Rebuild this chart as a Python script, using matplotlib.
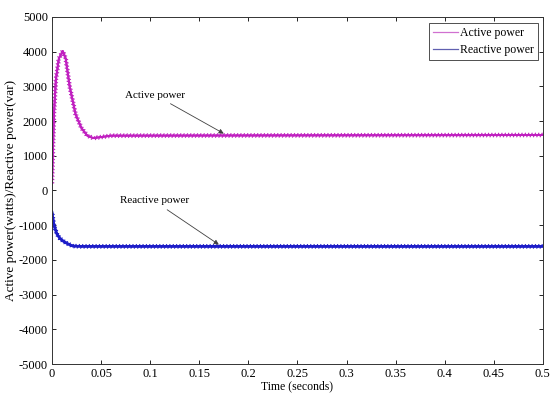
import numpy as np
import matplotlib
matplotlib.use("Agg")
import matplotlib.pyplot as plt
import matplotlib.patheffects as pe
from matplotlib.ticker import FixedLocator

# Values
T_ACTIVE = [0.0, 0.002, 0.004, 0.007, 0.011, 0.014, 0.018, 0.024, 0.030, 0.036, 0.042, 0.050, 0.060, 0.5]
P_ACTIVE = [200, 2200, 3200, 3800, 4020, 3800, 3000, 2200, 1800, 1580, 1510, 1540, 1580, 1600]

T_REACTIVE = [0.0, 0.002, 0.005, 0.008, 0.012, 0.015, 0.021, 0.030, 0.5]
Q_REACTIVE = [-620, -1000, -1250, -1380, -1470, -1520, -1600, -1610, -1610]

X_TICKS = [0, 0.05, 0.1, 0.15, 0.2, 0.25, 0.3, 0.35, 0.4, 0.45, 0.5]
X_LABELS = ["0", "0.05", "0.1", "0.15", "0.2", "0.25", "0.3", "0.35", "0.4", "0.45", "0.5"]
Y_TICKS = [-5000, -4000, -3000, -2000, -1000, 0, 1000, 2000, 3000, 4000, 5000]

plt.rcParams["font.family"] = ["Liberation Serif", "DejaVu Serif"]
plt.rcParams["font.size"] = 8
plt.rcParams["axes.unicode_minus"] = False

ACTIVE_COLOR = "#c020c0"
REACTIVE_COLOR = "#1c1cc8"


def ripple(color):
    # the dense switching ripple, drawn as small ticks on both sides of the trace
    return [
        pe.withTickedStroke(angle=60, spacing=2.4, length=0.6, linewidth=0.8, foreground=color),
        pe.withTickedStroke(angle=-120, spacing=2.4, length=0.6, linewidth=0.8, foreground=color),
    ]


fig = plt.figure(figsize=(5.5, 3.94), dpi=100)
ax = fig.add_axes([0.0945, 0.0761, 0.8925, 0.8808])

ax.plot(T_ACTIVE, P_ACTIVE, color=ACTIVE_COLOR, lw=1.4, label="Active power",
        path_effects=ripple(ACTIVE_COLOR))
ax.plot(T_REACTIVE, Q_REACTIVE, color=REACTIVE_COLOR, lw=1.8, label="Reactive power",
        path_effects=ripple(REACTIVE_COLOR))

ax.annotate("Active power", xy=(0.175, 1640), xytext=(0.105, 2750),
            ha="center", va="center", fontsize=8,
            arrowprops=dict(arrowstyle="-|>", color="#404040", lw=0.6,
                            mutation_scale=7, shrinkA=2, shrinkB=0))
ax.annotate("Reactive power", xy=(0.170, -1560), xytext=(0.104, -300),
            ha="center", va="center", fontsize=8,
            arrowprops=dict(arrowstyle="-|>", color="#404040", lw=0.6,
                            mutation_scale=7, shrinkA=2, shrinkB=0))

ax.set_xlim(0, 0.5)
ax.set_ylim(-5000, 5000)
ax.xaxis.set_major_locator(FixedLocator(X_TICKS))
ax.set_xticklabels(X_LABELS)
ax.yaxis.set_major_locator(FixedLocator(Y_TICKS))
ax.tick_params(direction="in", top=True, right=True, length=3, width=0.6, pad=3,
               labelsize=9)
for s in ax.spines.values():
    s.set_linewidth(0.7)
    s.set_color("#333333")

ax.set_xlabel("Time (seconds)", fontsize=8.5, labelpad=0)
ax.set_ylabel("Active power(watts)/Reactive power(var)", fontsize=9.5, labelpad=1)

leg = ax.legend(loc="upper right", bbox_to_anchor=(0.99, 0.983), borderaxespad=0,
                fancybox=False, edgecolor="#333333", framealpha=1, handlelength=2.1,
                handletextpad=0.2, borderpad=0.35, labelspacing=0.4, fontsize=8.5)
leg.get_frame().set_linewidth(0.6)
for line, c in zip(leg.get_lines(), ["#d070d0", "#6060b0"]):
    line.set_path_effects([])
    line.set_color(c)
    line.set_linewidth(0.9)

fig.savefig("out.png", dpi=100)
